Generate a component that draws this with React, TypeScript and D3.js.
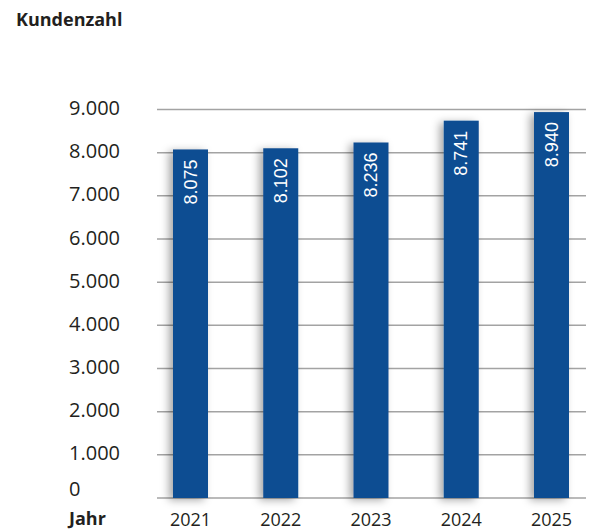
import * as d3 from "d3";
import { useEffect, useRef } from "react";

const years = ["2021", "2022", "2023", "2024", "2025"];
const kunden = [8075, 8102, 8236, 8741, 8940];
const yTicks = [0, 1000, 2000, 3000, 4000, 5000, 6000, 7000, 8000, 9000];

const fmt = (v: number) => d3.format(",")(v).replace(/,/g, ".");

function App() {
  const ref = useRef<SVGSVGElement | null>(null);

  useEffect(() => {
    const svg = d3.select(ref.current);
    svg.selectAll("*").remove();

    const y = d3.scaleLinear().domain([0, 9000]).range([498, 109.5]);
    const x = d3.scalePoint<string>().domain(years).range([190.5, 551.5]);
    const barW = 35;
    const labelFont = "'Open Sans', 'Noto Sans', sans-serif";

    const defs = svg.append("defs");
    const f = defs.append("filter").attr("id", "shadow")
      .attr("x", "-60%").attr("y", "-10%").attr("width", "200%").attr("height", "130%");
    f.append("feDropShadow").attr("dx", -4).attr("dy", 2).attr("stdDeviation", 4)
      .attr("flood-color", "#000").attr("flood-opacity", 0.35);

    svg.append("text").attr("x", 16).attr("y", 19)
      .attr("dominant-baseline", "central")
      .attr("font-family", labelFont).attr("font-weight", "bold").attr("font-size", 18)
      .attr("fill", "#231f20").text("Kundenzahl");

    // gridlines
    svg.append("g").selectAll("line").data(yTicks).join("line")
      .attr("x1", 157).attr("x2", 586)
      .attr("y1", d => y(d)).attr("y2", d => y(d))
      .attr("stroke", "#a3a3a3").attr("stroke-width", 1.5);

    // y labels
    svg.append("g").selectAll("text").data(yTicks).join("text")
      .attr("x", 69)
      .attr("y", d => y(d) - (d === 0 ? 10 : 2))
      .attr("dominant-baseline", "central")
      .attr("font-family", labelFont).attr("font-size", 20)
      .attr("fill", "#231f20")
      .text(d => fmt(d));

    // bars
    svg.append("g").selectAll("rect").data(kunden).join("rect")
      .attr("x", (_, i) => x(years[i])! - barW / 2)
      .attr("y", d => y(d))
      .attr("width", barW)
      .attr("height", d => y(0) - y(d))
      .attr("fill", "#0f4d92")
      .attr("filter", "url(#shadow)");

    // value labels
    svg.append("g").selectAll("text").data(kunden).join("text")
      .attr("transform", (d, i) => `translate(${x(years[i])}, ${y(d) + 10}) rotate(-90)`)
      .attr("text-anchor", "end")
      .attr("dominant-baseline", "central")
      .attr("font-family", "'Liberation Sans', Arial, sans-serif").attr("font-size", 18)
      .attr("fill", "#fff")
      .text(d => fmt(d));

    // x labels
    svg.append("g").selectAll("text").data(years).join("text")
      .attr("x", d => x(d)!)
      .attr("y", 519)
      .attr("text-anchor", "middle")
      .attr("dominant-baseline", "central")
      .attr("font-family", labelFont).attr("font-size", 18)
      .attr("fill", "#231f20")
      .text(d => d);

    svg.append("text").attr("x", 69).attr("y", 518)
      .attr("dominant-baseline", "central")
      .attr("font-family", labelFont).attr("font-weight", "bold").attr("font-size", 18)
      .attr("fill", "#231f20").text("Jahr");
  }, []);

  return (
    <svg ref={ref} width={589} height={530}
      style={{ position: "absolute", left: 0, top: 0, background: "#fff" }} />
  );
}

export default App;
